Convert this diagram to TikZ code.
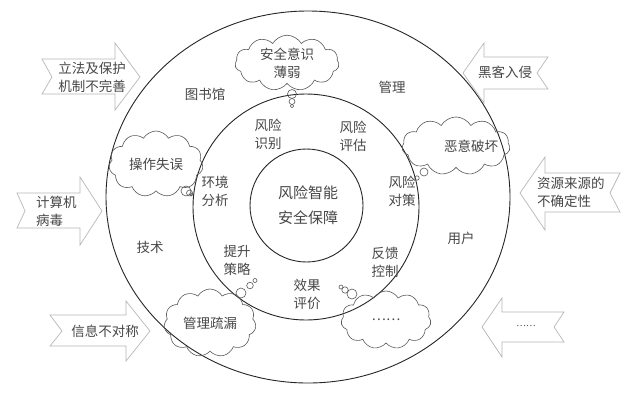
\documentclass[tikz,border=0pt]{standalone}
\usepackage{fontspec}
\setmainfont{Noto Sans CJK SC}
\usetikzlibrary{shapes.symbols}
\begin{document}
\begin{tikzpicture}[x=1pt,y=-1pt,
  lbl/.style={text=black!72,font=\fontsize{13.5}{18}\selectfont,align=center,inner sep=0pt},
  biglbl/.style={text=black!72,font=\fontsize{15}{25}\selectfont,align=center,inner sep=0pt},
  ring/.style={draw=black!85,line width=0.9pt},
  thought/.style={cloud,draw=black!65,line width=0.6pt,cloud puffs=11,cloud puff arc=120,aspect=2,inner sep=0pt,text=black!72,font=\fontsize{13.5}{18}\selectfont,align=center},
  bub/.style={draw=black!65,line width=0.6pt},
  arr/.style={draw=black!28,line width=0.7pt,line join=miter}]
\useasboundingbox (0,0) rectangle (644,410);
\fill[white] (0,0) rectangle (644,410);

% rings
\draw[ring] (308,197) ellipse [x radius=202,y radius=186];
\draw[ring] (306,207) circle [radius=113];
\draw[ring] (306.5,205.5) circle [radius=56.5];

% centre
\node[biglbl] (core) at (308,205.5) {风险智能\\安全保障};

% middle ring labels
\node[lbl] (ident) at (268,134) {风险\\识别};
\node[lbl] (eval)  at (353,136) {风险\\评估};
\node[lbl] (env)   at (215,191) {环境\\分析};
\node[lbl] (meas)  at (402,191) {风险\\对策};
\node[lbl] (impr)  at (237,260) {提升\\策略};
\node[lbl] (fb)    at (385,262) {反馈\\控制};
\node[lbl] (eff)   at (307,294) {效果\\评价};

% outer ring labels
\node[lbl] (lib)  at (205,94)  {图书馆};
\node[lbl] (mgmt) at (392,87)  {管理};
\node[lbl] (tech) at (150,247) {技术};
\node[lbl] (user) at (461,238) {用户};

% clouds
\node[thought,minimum width=104pt,minimum height=52pt] (c1) at (287,63) {安全意识\\薄弱};
\draw[bub] (292,94) circle [radius=4.5];
\draw[bub] (292,101.5) circle [radius=3];
\draw[bub] (292,106) circle [radius=1.8];

\node[thought,minimum width=94pt,minimum height=66pt] (c2) at (156,164) {操作失误};
\draw[bub] (186,191) circle [radius=5];
\draw[bub] (189.5,193) circle [radius=3];
\draw[bub] (191.5,194.5) circle [radius=1.5];

\node[thought,minimum width=108pt,minimum height=50pt,text width=64pt] (c3) at (456,146) {\hspace*{20pt}恶意破坏};
\draw[bub] (424,172) circle [radius=4];
\draw[bub] (417,178) circle [radius=2.2];

\node[thought,minimum width=92pt,minimum height=68pt] (c4) at (210,323) {管理疏漏};
\draw[bub] (241,293) circle [radius=5];
\draw[bub] (250,285.5) circle [radius=3.3];
\draw[bub] (255,280.5) circle [radius=2];

\node[thought,minimum width=90pt,minimum height=58pt] (c5) at (386,320) {……};
\draw[bub] (352,294) circle [radius=5];
\draw[bub] (345,290) circle [radius=3.2];
\draw[bub] (341,287) circle [radius=2];

% factor arrows
\draw[arr] (42,59) -- (115,59) -- (115,43) -- (140,77) -- (115,110) -- (115,94) -- (42,94) -- (52,77) -- cycle;
\node[lbl] (a1) at (92,77) {立法及保护\\机制不完善};

\draw[arr] (548,57) -- (484,57) -- (484,43) -- (463,73) -- (484,103) -- (484,89) -- (548,89) -- (537,73) -- cycle;
\node[lbl] (a2) at (505,72) {黑客入侵};

\draw[arr] (17,193) -- (80,193) -- (80,177) -- (102,211) -- (80,245) -- (80,228) -- (17,228) -- (25,211) -- cycle;
\node[lbl,align=left,anchor=west] (a3) at (36,211) {计算机\\病毒};

\draw[arr] (620,173) -- (545,173) -- (545,157) -- (520,193) -- (545,230) -- (545,212) -- (620,212) -- (610,193) -- cycle;
\node[lbl,align=left,anchor=west] (a4) at (537,192) {资源来源的\\不确定性};

\draw[arr] (50,315) -- (126,315) -- (126,301) -- (150,331) -- (126,361) -- (126,346) -- (50,346) -- (62,331) -- cycle;
\node[lbl] (a5) at (105,331) {信息不对称};

\draw[arr] (564,312) -- (502,312) -- (502,298) -- (482,327) -- (502,357) -- (502,342) -- (564,342) -- (554,327) -- cycle;
\node[lbl,font=\fontsize{9}{10}\selectfont] (a6) at (526,326) {……};
\end{tikzpicture}
\end{document}
